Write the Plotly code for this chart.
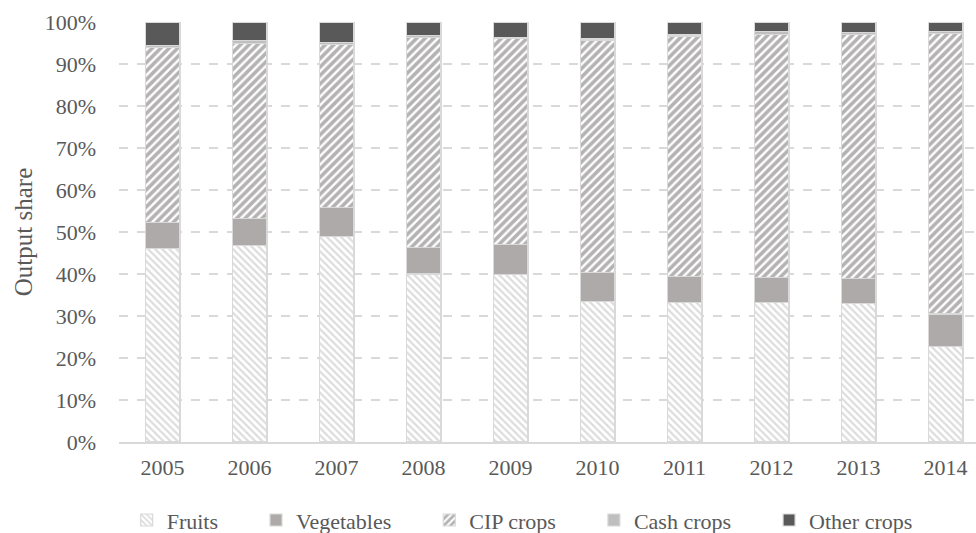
import plotly.graph_objects as go

years = ["2005", "2006", "2007", "2008", "2009", "2010", "2011", "2012", "2013", "2014"]

# Output shares by crop group (%), stacked bottom to top
fruits = [46.0, 46.7, 48.9, 40.0, 39.8, 33.4, 33.2, 33.3, 33.0, 22.7]
vegetables = [6.3, 6.6, 6.9, 6.3, 7.3, 6.9, 6.2, 5.9, 6.0, 7.8]
cip_crops = [41.7, 41.5, 38.8, 50.0, 48.9, 55.4, 57.1, 57.9, 58.1, 66.7]
cash_crops = [0.5, 0.8, 0.6, 0.4, 0.4, 0.4, 0.4, 0.6, 0.4, 0.5]
other_crops = [5.5, 4.4, 4.8, 3.3, 3.6, 3.9, 3.1, 2.3, 2.5, 2.3]

FONT = "Liberation Serif"
TEXT = "#595959"
EDGE = dict(color="#d9d9d9", width=1.2)
PAD = "\u00a0" * 6  # extra spacing after each legend label

fig = go.Figure()
fig.add_bar(
    name="Fruits" + PAD, x=years, y=fruits,
    marker=dict(color="white", line=EDGE,
                pattern=dict(shape="\\", fgcolor="#bababa", bgcolor="white",
                             size=5, solidity=0.45)),
)
fig.add_bar(
    name="Vegetables" + PAD, x=years, y=vegetables,
    marker=dict(color="#aeaaaa", line=EDGE),
)
fig.add_bar(
    name="CIP crops" + PAD, x=years, y=cip_crops,
    marker=dict(color="white", line=EDGE,
                pattern=dict(shape="/", fgcolor="#6a6666", bgcolor="white",
                             size=6, solidity=0.6)),
)
fig.add_bar(
    name="Cash crops" + PAD, x=years, y=cash_crops,
    marker=dict(color="#bfbfbf", line=EDGE),
)
fig.add_bar(
    name="Other crops", x=years, y=other_crops,
    marker=dict(color="#595959", line=EDGE),
)

fig.update_layout(
    width=976, height=533,
    barmode="stack", bargap=0.6,
    plot_bgcolor="white", paper_bgcolor="white",
    margin=dict(l=119, r=0, t=22, b=91, autoexpand=False),
    font=dict(family=FONT, size=22, color=TEXT),
    showlegend=True,
    legend=dict(orientation="h", x=0.535, xref="container", xanchor="center",
                y=0.024, yref="container", yanchor="middle",
                traceorder="normal", font=dict(size=22, color=TEXT),
                itemwidth=30, tracegroupgap=0),
    xaxis=dict(range=[-0.5, 9.35], showgrid=False, ticks="",
               showline=True, linecolor="#d9d9d9", linewidth=1.5,
               tickfont=dict(size=22, color=TEXT), ticklabelstandoff=5),
    yaxis=dict(range=[0, 100], tickvals=list(range(0, 101, 10)),
               ticktext=[f"{v}%" for v in range(0, 101, 10)],
               showgrid=True, gridcolor="#d9d9d9", gridwidth=1.5, griddash="dash",
               zeroline=False, ticks="", ticklabelstandoff=22,
               tickfont=dict(size=22, color=TEXT),
               title=dict(text="Output share", font=dict(size=25, color=TEXT),
                          standoff=4)),
)

fig.write_html("out.html")
